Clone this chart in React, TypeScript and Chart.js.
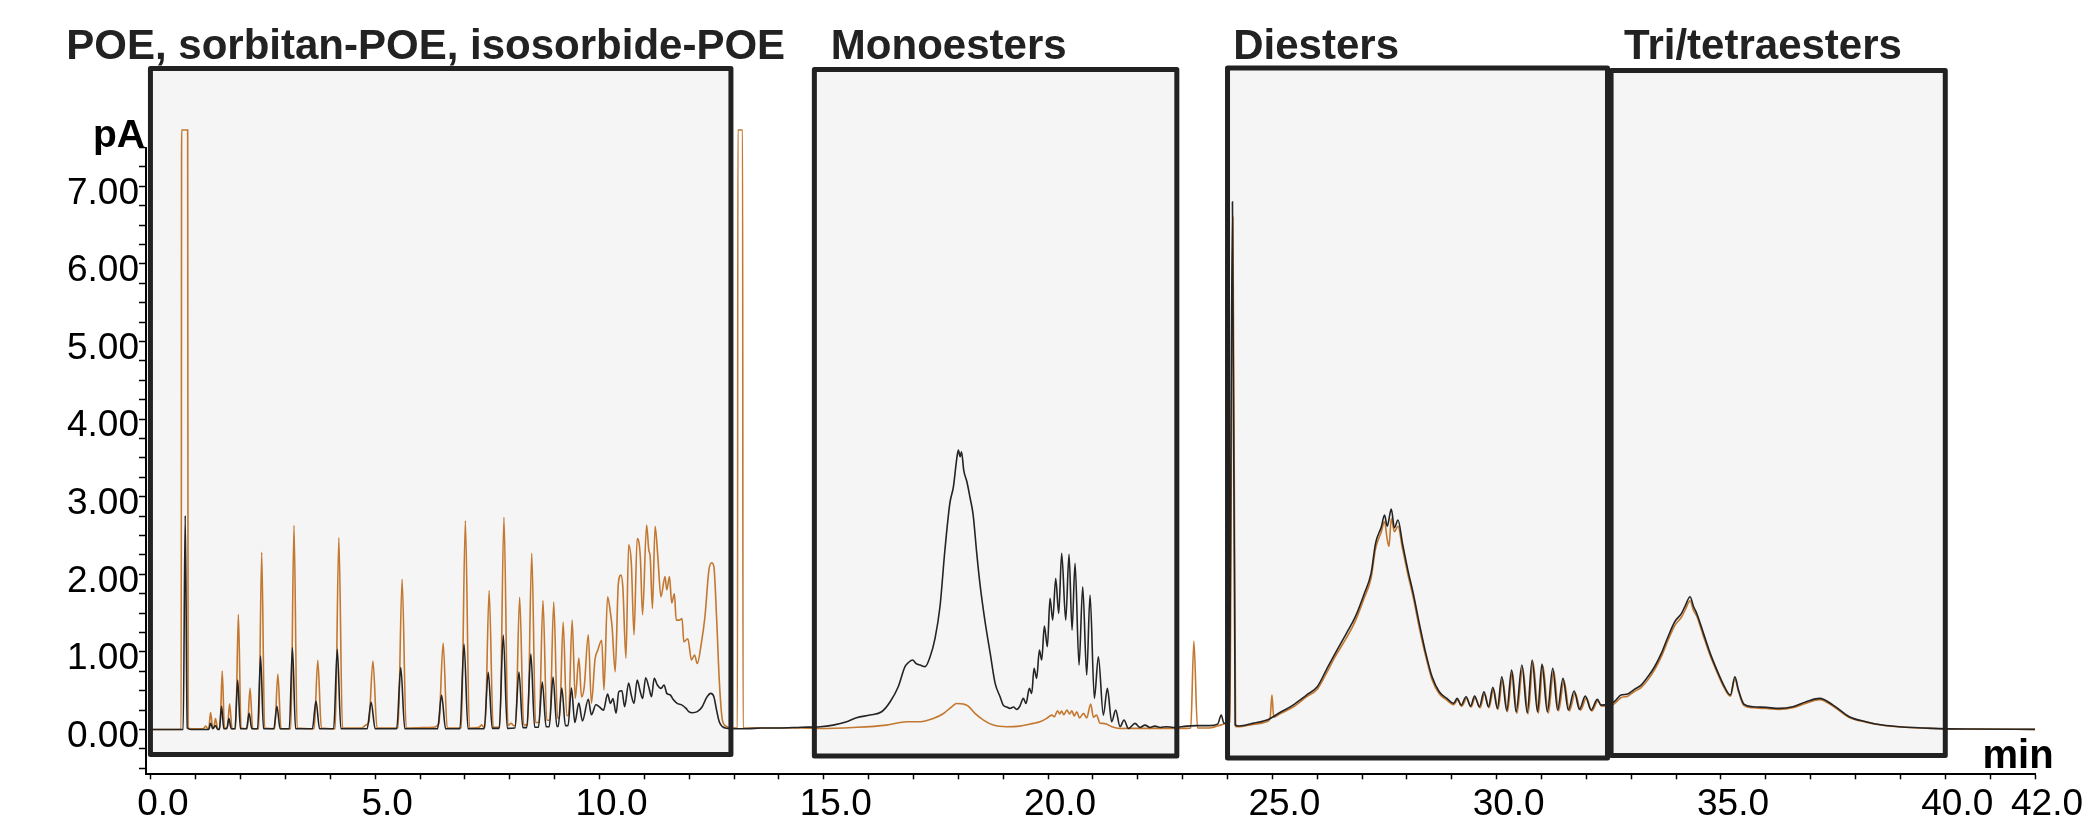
import React, { useEffect, useRef } from 'react';
import { Chart, registerables } from 'chart.js';

Chart.register(...registerables);

// ---- data: [time (min), signal (pA)] ----
const poeBlack: [number, number][] = [
  [0, 0], [0.72, 0], [0.765, 2.756], [0.81, 0.02], [0.9, 0],
  [1.29, 0], [1.33, 0.08], [1.38, 0.01], [1.44, 0.05], [1.49, 0],
  [1.525, 0], [1.575, 0.3], [1.625, 0.01], [1.69, 0.01], [1.74, 0.14], [1.79, 0.01],
  [1.875, 0.01], [1.935, 0.638], [1.995, 0.01], [2.13, 0.01], [2.19, 0.208], [2.25, 0.01],
  [2.38, 0.01], [2.445, 0.947], [2.51, 0.01], [2.74, 0.01], [2.81, 0.3], [2.88, 0.01],
  [3.085, 0.01], [3.155, 1.055], [3.225, 0.01], [3.6, 0.01], [3.68, 0.367], [3.76, 0.01],
  [4.075, 0.01], [4.155, 1.033], [4.235, 0.01], [4.82, 0.01], [4.91, 0.35], [5.0, 0.01],
  [5.48, 0.01], [5.57, 0.797], [5.66, 0.01], [6.39, 0.01], [6.48, 0.44], [6.57, 0.01],
  [6.89, 0.01], [6.98, 1.102], [7.07, 0.01], [7.43, 0.01], [7.52, 0.737], [7.61, 0.015],
  [7.765, 0.015], [7.855, 1.218], [7.945, 0.015], [8.115, 0.02], [8.205, 0.741], [8.29, 0.025],
  [8.38, 0.025], [8.47, 0.973], [8.555, 0.03], [8.64, 0.03], [8.725, 0.612], [8.81, 0.035],
  [8.88, 0.035], [8.965, 0.676], [9.05, 0.04], [9.08, 0.04], [9.16, 0.535], [9.24, 0.05],
  [9.3, 0.05], [9.375, 0.535], [9.45, 0.09], [9.54, 0.34], [9.62, 0.11], [9.75, 0.39],
  [9.82, 0.19], [9.92, 0.32], [9.99, 0.295], [10.09, 0.25], [10.18, 0.457], [10.245, 0.337],
  [10.3, 0.4], [10.37, 0.21], [10.43, 0.487], [10.5, 0.5], [10.56, 0.294], [10.65, 0.6],
  [10.71, 0.44], [10.77, 0.337], [10.84, 0.638], [10.9, 0.51], [10.96, 0.4], [11.03, 0.668],
  [11.1, 0.544], [11.16, 0.423], [11.22, 0.659], [11.29, 0.573], [11.37, 0.53], [11.44, 0.573],
  [11.5, 0.466], [11.58, 0.445], [11.64, 0.389], [11.73, 0.337], [11.84, 0.315], [11.93, 0.272],
  [11.99, 0.23], [12.07, 0.217], [12.18, 0.23], [12.29, 0.294], [12.39, 0.414], [12.48, 0.466],
  [12.55, 0.423], [12.61, 0.25], [12.67, 0.1], [12.74, 0.037], [12.86, 0.015], [13.0, 0.01],
  [13.3, 0.01], [13.6, 0.02], [14.0, 0.02], [14.5, 0.03],
];

const poeOrange: [number, number][] = [
  [0, 0], [0.675, 0], [0.685, 7.725], [0.82, 7.725], [0.83, 0.02], [0.9, 0.01],
  [1.17, 0.01], [1.22, 0.045], [1.27, 0.01], [1.29, 0.01], [1.33, 0.22], [1.38, 0.02], [1.4, 0.02], [1.44, 0.14], [1.49, 0.01],
  [1.54, 0.01], [1.59, 0.754], [1.64, 0.02], [1.705, 0.02], [1.755, 0.33], [1.81, 0.01],
  [1.89, 0.01], [1.95, 1.484], [2.01, 0.02], [2.15, 0.01], [2.21, 0.53], [2.27, 0.01],
  [2.405, 0.01], [2.47, 2.283], [2.535, 0.02], [2.76, 0.01], [2.83, 0.715], [2.9, 0.01],
  [3.12, 0.01], [3.19, 2.631], [3.26, 0.02], [3.64, 0.01], [3.72, 0.891], [3.8, 0.02],
  [4.11, 0.01], [4.19, 2.472], [4.27, 0.02], [4.7, 0.02], [4.8, 0.06], [4.86, 0.1], [4.95, 0.883], [5.04, 0.02],
  [5.51, 0.02], [5.6, 1.935], [5.69, 0.02], [6.3, 0.03], [6.42, 0.08], [6.515, 1.115], [6.605, 0.02],
  [6.92, 0.02], [7.01, 2.69], [7.1, 0.02], [7.32, 0.03], [7.37, 0.06], [7.42, 0.03], [7.45, 0.03], [7.54, 1.789], [7.63, 0.03],
  [7.78, 0.03], [7.87, 2.734], [7.96, 0.05], [8.03, 0.08], [8.09, 0.05], [8.13, 0.05], [8.22, 1.703], [8.31, 0.06],
  [8.4, 0.06], [8.49, 2.27], [8.575, 0.09], [8.655, 0.09], [8.74, 1.665], [8.825, 0.12],
  [8.895, 0.12], [8.98, 1.643], [9.065, 0.15], [9.11, 0.15], [9.19, 1.385], [9.27, 0.18],
  [9.31, 0.18], [9.39, 1.41], [9.46, 0.4], [9.54, 0.92], [9.6, 0.42], [9.66, 0.55], [9.75, 1.22],
  [9.82, 0.34], [9.9, 0.9], [9.96, 1.02], [10.05, 1.15], [10.1, 0.51], [10.18, 1.71],
  [10.245, 1.5], [10.28, 1.33], [10.35, 0.745], [10.42, 1.88], [10.48, 1.99], [10.52, 1.84],
  [10.59, 0.92], [10.65, 2.38], [10.71, 2.14], [10.77, 1.22], [10.84, 2.46], [10.91, 2.23],
  [10.96, 1.48], [11.05, 2.635], [11.1, 2.31], [11.13, 2.23], [11.18, 1.56], [11.24, 2.62],
  [11.3, 2.23], [11.37, 1.71], [11.46, 1.97], [11.5, 1.8], [11.56, 1.97], [11.61, 1.63],
  [11.67, 1.75], [11.71, 1.41], [11.78, 1.41], [11.84, 1.43], [11.88, 1.13], [11.97, 1.17],
  [12.05, 0.896], [12.12, 0.96], [12.18, 0.85], [12.27, 1.11], [12.35, 1.45], [12.44, 2.06],
  [12.5, 2.15], [12.55, 2.1], [12.61, 1.45], [12.67, 0.64], [12.74, 0.12], [12.82, 0.045],
  [12.91, 0.02], [13.075, 0.02], [13.085, 7.725], [13.19, 7.725], [13.2, 0.02], [13.4, 0.02], [14.0, 0.02], [14.5, 0.02],
];

const monoBlack: [number, number][] = [
  [14.92, 0.036], [15.21, 0.057], [15.51, 0.1], [15.73, 0.152], [16.03, 0.186], [16.29, 0.229],
  [16.48, 0.358], [16.66, 0.551], [16.81, 0.81], [16.9, 0.87], [16.98, 0.895], [17.06, 0.85],
  [17.15, 0.83], [17.26, 0.81], [17.37, 0.938], [17.48, 1.174], [17.59, 1.582], [17.7, 2.313],
  [17.81, 2.914], [17.89, 3.129], [17.96, 3.472], [18.0, 3.601], [18.04, 3.515], [18.07, 3.58],
  [18.12, 3.34], [18.19, 3.193], [18.26, 2.99], [18.33, 2.764], [18.41, 2.27], [18.48, 1.883],
  [18.59, 1.41], [18.71, 0.98], [18.82, 0.594], [18.93, 0.422], [19.0, 0.315], [19.08, 0.29],
  [19.15, 0.272], [19.23, 0.29], [19.3, 0.259], [19.37, 0.3],
  [19.449, 0.401], [19.508, 0.336], [19.583, 0.53], [19.635, 0.465], [19.687, 0.788], [19.746, 0.659],
  [19.806, 1.024], [19.858, 0.895], [19.917, 1.333], [19.984, 1.067], [20.043, 1.69], [20.103, 1.41],
  [20.17, 1.947], [20.237, 1.496], [20.303, 2.27], [20.393, 1.41], [20.467, 2.257], [20.534, 1.281],
  [20.601, 2.141], [20.69, 0.83], [20.772, 1.84], [20.861, 0.702], [20.935, 1.733], [21.032, 0.401],
  [21.121, 0.938], [21.232, 0.186], [21.321, 0.53], [21.418, 0.1], [21.507, 0.25], [21.604, 0.036],
  [21.693, 0.122], [21.79, 0.014], [21.938, 0.079], [22.05, 0.027], [22.16, 0.057], [22.27, 0.027],
  [22.38, 0.044], [22.5, 0.027], [22.64, 0.036], [22.79, 0.027], [23.09, 0.044], [23.31, 0.05],
];

const monoOrange: [number, number][] = [
  [14.92, 0.014], [15.66, 0.027], [16.4, 0.057], [16.85, 0.1], [17.15, 0.1], [17.44, 0.143],
  [17.67, 0.207], [17.85, 0.293], [17.96, 0.336], [18.11, 0.328], [18.22, 0.302], [18.37, 0.207],
  [18.56, 0.122], [18.78, 0.057], [19.08, 0.036], [19.37, 0.044], [19.67, 0.079], [19.82, 0.1],
  [19.97, 0.143], [20.08, 0.186], [20.14, 0.165], [20.21, 0.242], [20.26, 0.2], [20.3, 0.238],
  [20.35, 0.19], [20.42, 0.25], [20.48, 0.2], [20.53, 0.242], [20.58, 0.175], [20.64, 0.229],
  [20.7, 0.15], [20.79, 0.208], [20.86, 0.15], [20.95, 0.328], [21.01, 0.16], [21.08, 0.186],
  [21.16, 0.08], [21.22, 0.079], [21.3, 0.07], [21.42, 0.036], [21.6, 0.014], [22.0, 0.015],
  [22.5, 0.015], [23.1, 0.015],
];

const diBlack: [number, number][] = [
  [23.6, 0.05], [23.78, 0.07], [23.86, 0.186], [23.92, 0.08], [24.04, 0.1], [24.11, 6.8],
  [24.17, 0.06], [24.26, 0.045], [24.56, 0.079], [24.91, 0.13], [25.16, 0.216], [25.46, 0.315],
  [25.76, 0.444], [26.0, 0.551], [26.2, 0.766], [26.4, 0.981], [26.65, 1.239], [26.85, 1.454],
  [27.05, 1.754], [27.2, 2.012], [27.3, 2.399], [27.43, 2.614], [27.5, 2.764], [27.56, 2.62],
  [27.65, 2.841], [27.72, 2.6], [27.8, 2.7], [27.9, 2.399], [28.02, 2.055], [28.14, 1.754],
  [28.29, 1.325], [28.42, 0.981], [28.56, 0.68], [28.72, 0.487], [28.89, 0.401], [29.04, 0.337],
  [29.119, 0.401], [29.208, 0.315], [29.318, 0.422], [29.418, 0.302], [29.507, 0.431], [29.617, 0.294],
  [29.716, 0.487], [29.816, 0.294], [29.915, 0.543], [30.015, 0.272], [30.114, 0.68], [30.224, 0.242],
  [30.333, 0.766], [30.433, 0.229], [30.562, 0.831], [30.681, 0.216], [30.791, 0.895], [30.91, 0.229],
  [31.01, 0.844], [31.129, 0.229], [31.249, 0.788], [31.358, 0.251], [31.478, 0.659], [31.597, 0.251],
  [31.726, 0.496], [31.846, 0.259], [31.975, 0.431], [32.104, 0.251], [32.244, 0.388], [32.323, 0.315],
];

const diOrange: [number, number][] = [
  [23.18, 0.02], [23.25, 1.14], [23.33, 0.02], [23.6, 0.02], [23.86, 0.06], [23.98, 0.08],
  [24.05, 0.1], [24.12, 6.6], [24.18, 0.04], [24.26, 0.035], [24.56, 0.065], [24.91, 0.11],
  [24.95, 0.15], [24.99, 0.444], [25.03, 0.16], [25.16, 0.2], [25.46, 0.29], [25.76, 0.42],
  [26.0, 0.52], [26.2, 0.72], [26.4, 0.94], [26.65, 1.18], [26.85, 1.4], [27.05, 1.7],
  [27.2, 1.95], [27.3, 2.33], [27.43, 2.55], [27.5, 2.68], [27.56, 2.45], [27.6, 2.36],
  [27.65, 2.72], [27.72, 2.55], [27.8, 2.62], [27.9, 2.33], [28.02, 2.0], [28.14, 1.7],
  [28.29, 1.27], [28.42, 0.94], [28.56, 0.64], [28.72, 0.46], [28.89, 0.38], [29.04, 0.32],
  [29.13, 0.38], [29.22, 0.3], [29.33, 0.4], [29.43, 0.29], [29.52, 0.41], [29.63, 0.28],
  [29.73, 0.46], [29.83, 0.28], [29.93, 0.52], [30.03, 0.26], [30.13, 0.65], [30.24, 0.23],
  [30.35, 0.74], [30.45, 0.21], [30.58, 0.8], [30.7, 0.2], [30.81, 0.87], [30.93, 0.21],
  [31.03, 0.82], [31.15, 0.21], [31.27, 0.76], [31.38, 0.24], [31.5, 0.63], [31.62, 0.24],
  [31.75, 0.47], [31.87, 0.25], [32.0, 0.41], [32.12, 0.24], [32.26, 0.37], [32.34, 0.3],
];

const triBlack: [number, number][] = [
  [32.62, 0.358], [32.77, 0.444], [32.92, 0.457], [33.07, 0.517], [33.22, 0.573], [33.37, 0.68],
  [33.52, 0.809], [33.67, 0.981], [33.82, 1.196], [33.97, 1.389], [34.12, 1.496], [34.21, 1.604],
  [34.31, 1.711], [34.39, 1.582], [34.46, 1.496], [34.61, 1.239], [34.76, 0.981], [34.91, 0.766],
  [35.06, 0.573], [35.21, 0.444], [35.31, 0.68], [35.39, 0.508], [35.51, 0.328], [35.71, 0.294],
  [36.01, 0.285], [36.3, 0.272], [36.6, 0.294], [36.9, 0.358], [37.2, 0.401], [37.5, 0.315],
  [37.86, 0.165], [38.23, 0.101], [38.6, 0.058], [38.98, 0.036], [39.72, 0.015], [40.46, 0.006],
  [42.0, 0.002],
];

const triOrange: [number, number][] = [
  [32.62, 0.33], [32.77, 0.41], [32.92, 0.43], [33.07, 0.49], [33.22, 0.54], [33.37, 0.64],
  [33.52, 0.77], [33.67, 0.94], [33.82, 1.15], [33.97, 1.34], [34.12, 1.45], [34.21, 1.55],
  [34.31, 1.66], [34.39, 1.53], [34.46, 1.46], [34.61, 1.2], [34.76, 0.95], [34.91, 0.74],
  [35.06, 0.55], [35.21, 0.43], [35.31, 0.65], [35.39, 0.49], [35.51, 0.31], [35.71, 0.28],
  [36.01, 0.27], [36.3, 0.26], [36.6, 0.28], [36.9, 0.34], [37.2, 0.385], [37.5, 0.3],
  [37.86, 0.155], [38.23, 0.095], [38.6, 0.055], [38.98, 0.033], [39.72, 0.014], [40.46, 0.006],
  [42.0, 0.002],
];

// ---- region boxes (minutes / pA) ----
const regionNames = ['POE, sorbitan-POE, isosorbide-POE', 'Monoesters', 'Diesters', 'Tri/tetraesters'];
const regionStart = [-0.01, 14.79, 24.0, 32.55];
const regionEnd = [12.93, 22.87, 32.47, 40.0];
const regionTop = [8.518, 8.505, 8.524, 8.492];
const regionBottom = [-0.322, -0.341, -0.367, -0.335];
const regionLabelAt = [-1.886, 15.158, 24.128, 32.84];

// ---- tick labels ----
const xLabelValues = [0, 5, 10, 15, 20, 25, 30, 35, 40, 42];
const yLabelValues = [0, 1, 2, 3, 4, 5, 6, 7];

const FONT = '"Liberation Sans", Arial, Helvetica, sans-serif';
const BLACK = '#242424';
const ORANGE = '#c3772f';

const toPoints = (arr: [number, number][]) => arr.map(([x, y]) => ({ x, y }));

const regionsPlugin = {
  id: 'regions',
  beforeDatasetsDraw(chart: any) {
    const { ctx, scales } = chart;
    const xs = scales.x;
    const ys = scales.y;
    ctx.save();
    ctx.fillStyle = '#f5f5f5';
    regionNames.forEach((_, i) => {
      const x1 = xs.getPixelForValue(regionStart[i]);
      const x2 = xs.getPixelForValue(regionEnd[i]);
      const y1 = ys.getPixelForValue(regionTop[i]);
      const y2 = ys.getPixelForValue(regionBottom[i]);
      ctx.fillRect(x1, y1, x2 - x1, y2 - y1);
    });
    ctx.restore();
  },
  afterDatasetsDraw(chart: any) {
    const { ctx, scales } = chart;
    const xs = scales.x;
    const ys = scales.y;
    ctx.save();
    ctx.strokeStyle = '#222222';
    ctx.lineWidth = 5;
    ctx.lineJoin = 'round';
    regionNames.forEach((_, i) => {
      const x1 = xs.getPixelForValue(regionStart[i]);
      const x2 = xs.getPixelForValue(regionEnd[i]);
      const y1 = ys.getPixelForValue(regionTop[i]);
      const y2 = ys.getPixelForValue(regionBottom[i]);
      ctx.strokeRect(x1, y1, x2 - x1, y2 - y1);
    });
    ctx.fillStyle = '#222222';
    ctx.font = `bold 42px ${FONT}`;
    ctx.textBaseline = 'alphabetic';
    ctx.textAlign = 'left';
    regionNames.forEach((name, i) => {
      ctx.fillText(name, xs.getPixelForValue(regionLabelAt[i]), ys.getPixelForValue(8.64));
    });
    ctx.fillStyle = '#000000';
    ctx.font = `bold 39px ${FONT}`;
    ctx.fillText('pA', xs.getPixelForValue(-1.29), ys.getPixelForValue(7.51));
    ctx.font = `bold 40px ${FONT}`;
    ctx.fillText('min', xs.getPixelForValue(40.83), ys.getPixelForValue(-0.5));
    ctx.restore();
  },
};

export default function App() {
  const ref = useRef<HTMLCanvasElement>(null);
  useEffect(() => {
    if (!ref.current) return;
    const chart = new Chart(ref.current, {
      type: 'line',
      data: {
        datasets: [
          {
            label: 'black',
            data: toPoints([...poeBlack, ...monoBlack, ...diBlack, ...triBlack]),
            borderColor: BLACK,
            borderWidth: 1.6,
            pointRadius: 0,
            cubicInterpolationMode: 'monotone',
            clip: false,
          },
          {
            label: 'orange',
            data: toPoints([...poeOrange, ...monoOrange, ...diOrange, ...triOrange]),
            borderColor: ORANGE,
            borderWidth: 1.6,
            pointRadius: 0,
            cubicInterpolationMode: 'monotone',
            clip: false,
          },
        ],
      },
      options: {
        responsive: false,
        maintainAspectRatio: false,
        animation: false,
        devicePixelRatio: 1,
        layout: { padding: { top: 147.5, right: 51, bottom: 0, left: 0 } },
        plugins: { legend: { display: false }, tooltip: { enabled: false }, title: { display: false } },
        scales: {
          x: {
            type: 'linear',
            min: -0.109,
            max: 42,
            afterBuildTicks: (s: any) => {
              const t = [];
              for (let i = 0; i <= 42; i++) t.push({ value: i });
              s.ticks = t;
            },
            afterFit: (s: any) => { s.height = 44.7; },
            ticks: {
              autoSkip: false,
              maxRotation: 0,
              minRotation: 0,
              padding: 3,
              labelOffset: 12,
              color: '#000',
              font: { family: FONT, size: 37 },
              callback: (v: any) => (xLabelValues.includes(Number(v)) ? Number(v).toFixed(1) : ''),
            },
            grid: { drawOnChartArea: false, drawTicks: true, tickLength: 5, tickColor: '#000', tickWidth: 1.5 },
            border: { display: true, color: '#000', width: 2 },
          },
          y: {
            type: 'linear',
            min: -0.577,
            max: 7.5,
            afterBuildTicks: (s: any) => {
              const t = [];
              for (let i = 0; i <= 32; i++) t.push({ value: -0.5 + i * 0.25 });
              s.ticks = t;
            },
            afterFit: (s: any) => { s.width = 146; },
            ticks: {
              autoSkip: false,
              padding: 0,
              labelOffset: 7,
              color: '#000',
              font: { family: FONT, size: 37 },
              callback: (v: any) => (yLabelValues.includes(Number(v)) ? Number(v).toFixed(2) : ''),
            },
            grid: { drawOnChartArea: false, drawTicks: true, tickLength: 7, tickColor: '#000', tickWidth: 1.5 },
            border: { display: true, color: '#000', width: 2 },
          },
        },
      },
      plugins: [regionsPlugin],
    } as any);
    return () => chart.destroy();
  }, []);
  return (
    <div style={{ position: 'absolute', left: 0, top: 0, width: 2086, height: 819, background: '#fff' }}>
      <canvas ref={ref} width={2086} height={819} style={{ display: 'block', width: 2086, height: 819 }} />
    </div>
  );
}
